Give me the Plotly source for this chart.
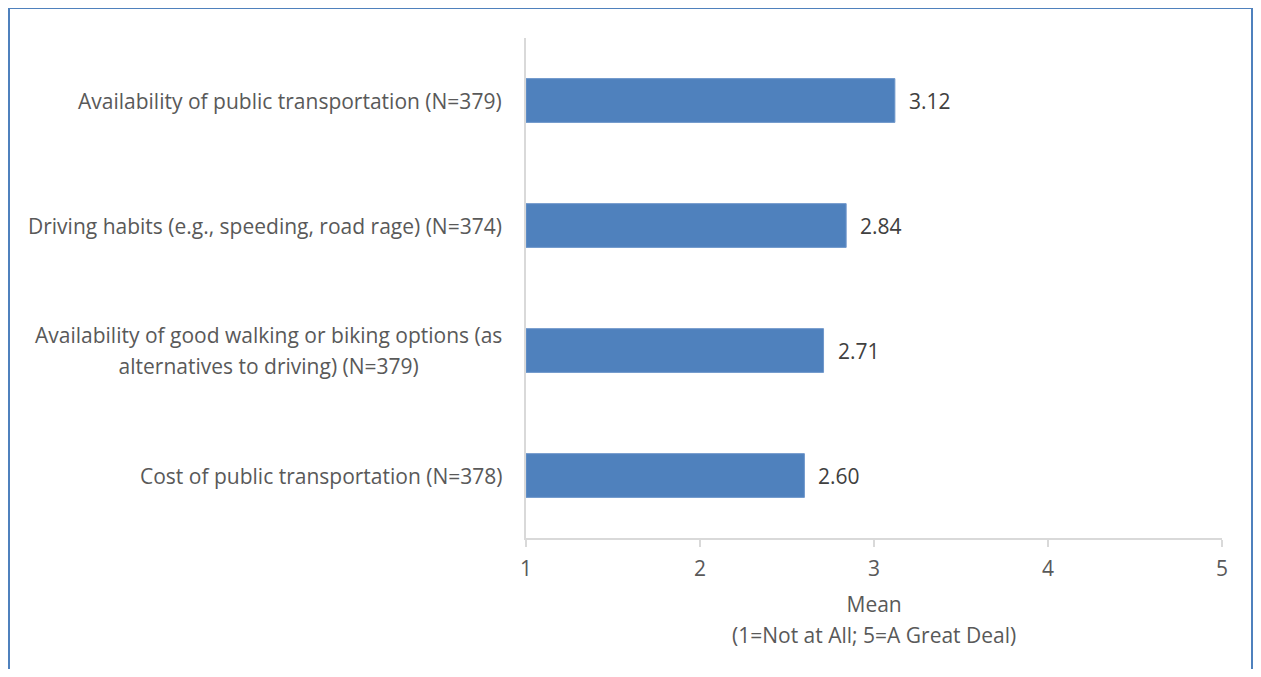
import plotly.graph_objects as go

categories = [
    "Availability of public transportation (N=379)",
    "Driving habits (e.g., speeding, road rage) (N=374)",
    "Availability of good walking or biking options (as<br>alternatives to driving) (N=379)",
    "Cost of public transportation (N=378)",
]
means = [3.12, 2.84, 2.71, 2.60]
value_labels = ["3.12", "2.84", "2.71", "2.60"]
x_ticks = [1, 2, 3, 4, 5]
axis_title_lines = ["Mean", "(1=Not at All; 5=A Great Deal)"]

FONT = "Open Sans"
FS = 21
LINE_FS = 23.5  # controls line spacing of multi-line labels (1.3em)
TXT = "#595959"
BAR = "#4F81BD"
GRID = "#D9D9D9"

W, H = 1245, 661
L, R, T, B = 518, 31, 30, 131
PW, PH = W - L - R, H - T - B


def spaced(lines):
    return "<br>".join(f"<span style='font-size:{FS}px'>{l}</span>" for l in lines)


fig = go.Figure()
fig.add_trace(go.Bar(
    y=categories,
    x=[m - 1 for m in means],
    base=1,
    orientation="h",
    marker=dict(color=BAR, line=dict(color="#6F97CB", width=1)),
    width=0.35,
    hoverinfo="skip",
))

annotations = []
for c, m, lab in zip(categories, means, value_labels):
    annotations.append(dict(x=m, y=c, xref="x", yref="y", text=lab, showarrow=False,
                            xanchor="left", xshift=12, font=dict(family=FONT, size=FS, color="#404040")))
    annotations.append(dict(x=0, y=c, xref="paper", yref="y", text=spaced(c.split("<br>")),
                            showarrow=False, xanchor="right", xshift=-22, align="center",
                            font=dict(family=FONT, size=LINE_FS, color=TXT)))
annotations.append(dict(x=0.5, y=0, xref="paper", yref="paper", yanchor="top", yshift=-50,
                        text=spaced(axis_title_lines), showarrow=False, align="center",
                        font=dict(family=FONT, size=LINE_FS, color=TXT)))

fig.update_layout(
    width=W, height=H,
    margin=dict(l=L, r=R, t=T, b=B),
    paper_bgcolor="white", plot_bgcolor="white",
    showlegend=False,
    annotations=annotations,
    xaxis=dict(range=[1, 5], tickvals=x_ticks, ticktext=[str(t) for t in x_ticks],
               showgrid=False, zeroline=False, showline=True, linecolor=GRID, linewidth=2,
               ticks="outside", ticklen=7, tickcolor=GRID, tickwidth=2,
               ticklabelstandoff=4,
               tickfont=dict(family=FONT, size=FS, color=TXT)),
    yaxis=dict(categoryorder="array", categoryarray=categories[::-1],
               showticklabels=False, showgrid=False, zeroline=False,
               showline=True, linecolor=GRID, linewidth=2, ticks=""),
    shapes=[dict(type="rect", xref="paper", yref="paper",
                 x0=(1 - L) / PW, x1=(W - 1 - L) / PW,
                 y0=(T + PH - 700) / PH, y1=(T + PH - 0) / PH,
                 line=dict(color="#4F81BD", width=2), fillcolor="rgba(0,0,0,0)")],
)

fig.write_html("out.html")
